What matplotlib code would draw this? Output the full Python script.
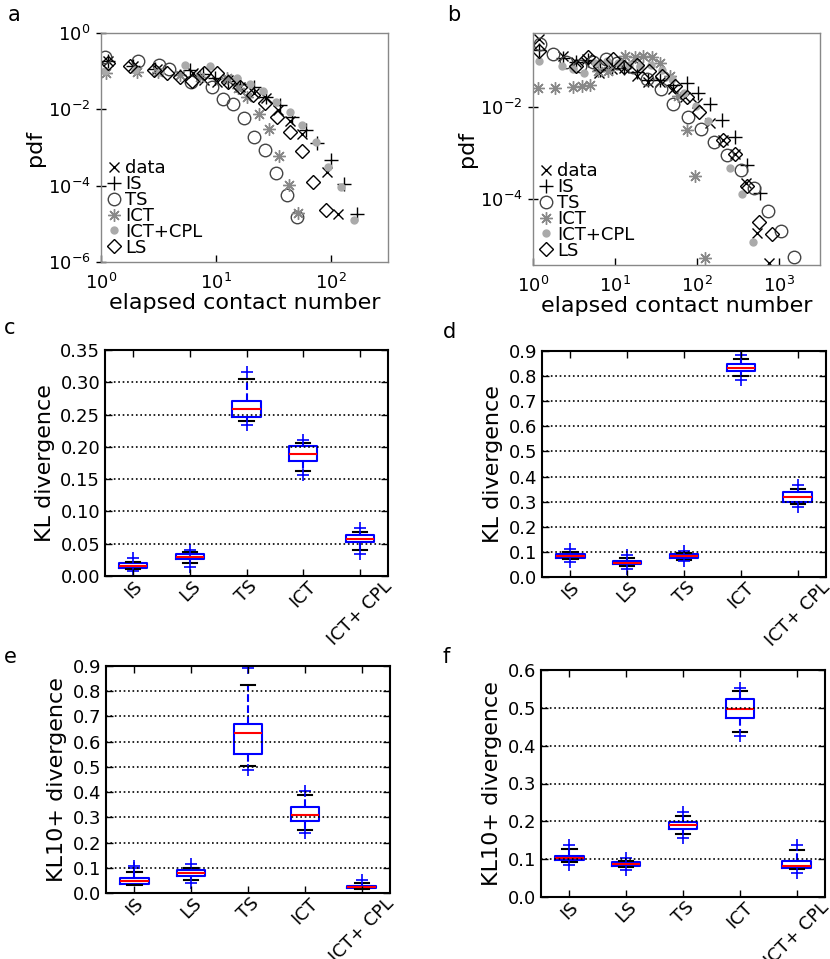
import matplotlib
matplotlib.use('Agg')
import matplotlib.pyplot as plt
from matplotlib.ticker import FixedLocator, NullLocator, FormatStrFormatter

plt.rcParams['font.family'] = ['DejaVu Sans']

# ---------------- panel a data ----------------
a_data_x = [1.14, 1.91, 3.06, 6.32, 7.94, 10.2, 12.9, 16.4, 21.4, 27.1, 34.9, 44.1, 56.6, 92.3, 117]
a_data_y = [0.185, 0.139, 0.112, 0.0914, 0.059, 0.053, 0.059, 0.038, 0.0265, 0.0195, 0.0096, 0.00506, 0.00227, 2.26e-4, 1.83e-5]
a_is_x = [1.14, 1.91, 2.97, 5.99, 7.78, 9.9, 12.8, 16.3, 21.4, 27.1, 36.6, 46.3, 60.5, 75.5, 100, 131, 169]
a_is_y = [0.185, 0.139, 0.112, 0.107, 0.0845, 0.0664, 0.0554, 0.0462, 0.0393, 0.0211, 0.013, 0.00644, 0.00289, 0.0013, 4.73e-4, 1.11e-4, 1.79e-5]
a_ts_x = [1.09, 2.09, 3.19, 3.95, 6.11, 9.27, 11.6, 14.1, 17.5, 21.7, 26.9, 33.3, 41.3, 51.2]
a_ts_y = [0.24, 0.185, 0.145, 0.112, 0.0531, 0.038, 0.0187, 0.0136, 0.00607, 0.00193, 8.65e-4, 2.12e-4, 5.85e-5, 1.55e-5]
a_ict_x = [1.11, 2.05, 3.15, 4.9, 7.3, 12.4, 15.6, 18.7, 23.7, 28.9, 35.3, 43.6, 52.5]
a_ict_y = [0.088, 0.097, 0.095, 0.079, 0.0705, 0.0664, 0.0363, 0.0207, 0.0076, 0.00301, 6.14e-4, 1.03e-4, 1.9e-5]
a_cpl_x = [1.08, 1.98, 3.27, 5.42, 8.95, 15.3, 19.7, 25.8, 33.6, 43.9, 56.6, 74, 95.5, 122, 160]
a_cpl_y = [0.1, 0.107, 0.095, 0.145, 0.137, 0.0652, 0.0454, 0.0309, 0.0153, 0.0084, 0.0039, 0.00143, 3.16e-4, 9.3e-5, 1.25e-5]
a_ls_x = [1.14, 1.79, 2.92, 3.79, 4.9, 6.2, 7.94, 10.2, 12.9, 16.4, 21, 26.7, 33.8, 44.1, 56.6, 70.6, 90.4]
a_ls_y = [0.161, 0.139, 0.107, 0.0914, 0.0692, 0.0564, 0.088, 0.0914, 0.0531, 0.0379, 0.0238, 0.0144, 0.0062, 0.0026, 8.1e-4, 1.28e-4, 2.32e-5]

# ---------------- panel b data ----------------
b_data_x = [1.19, 2.32, 3.34, 4.59, 6.44, 9.12, 12.9, 18.4, 25.5, 35.4, 51.4, 71.4, 99, 144, 209, 290, 395, 543, 760]
b_data_y = [0.316, 0.13, 0.0975, 0.111, 0.0561, 0.0665, 0.07, 0.0475, 0.0357, 0.0357, 0.0243, 0.0165, 0.0124, 0.00454, 0.0019, 9.28e-4, 2.16e-4, 1.75e-5, 3.98e-6]
b_is_x = [1.19, 2.32, 3.34, 4.69, 6.56, 9.19, 12.9, 18.4, 25.5, 35.4, 51.4, 74.8, 104, 144, 204, 290, 404, 586]
b_is_y = [0.176, 0.117, 0.096, 0.106, 0.064, 0.0711, 0.071, 0.058, 0.0389, 0.0389, 0.0302, 0.0329, 0.0199, 0.0116, 0.0052, 0.00225, 5.42e-4, 1.35e-4]
b_ts_x = [1.21, 1.77, 2.52, 3.72, 5.43, 7.76, 10.7, 16.7, 24.4, 36.1, 51.4, 77.1, 111, 161, 234, 344, 496, 728, 1057, 1537]
b_ts_y = [0.238, 0.144, 0.0975, 0.0785, 0.0975, 0.11, 0.09, 0.0736, 0.0403, 0.0243, 0.012, 0.00596, 0.00326, 0.00175, 8.95e-4, 4.21e-4, 1.68e-4, 5.36e-5, 1.99e-5, 5.38e-6]
b_ict_x = [1.16, 1.85, 3.1, 3.93, 4.96, 6.25, 8.15, 13.2, 17.5, 22.1, 28, 35.4, 46.9, 59.2, 74.8, 94.6, 125]
b_ict_y = [0.0256, 0.0256, 0.0269, 0.0288, 0.0298, 0.0621, 0.0621, 0.13, 0.122, 0.13, 0.125, 0.0927, 0.0488, 0.0171, 0.00315, 3.07e-4, 4.98e-6]
b_cpl_x = [1.19, 2.24, 3.05, 4.19, 5.7, 7.91, 11, 14.9, 20.2, 27.5, 37.1, 49.1, 70, 96.3, 135, 252, 351, 486]
b_cpl_y = [0.101, 0.0785, 0.0665, 0.0561, 0.09, 0.101, 0.09, 0.0826, 0.0785, 0.0826, 0.0643, 0.0403, 0.0205, 0.0105, 0.00502, 4.59e-4, 1.28e-4, 1.15e-5]
b_ls_x = [1.19, 3.32, 4.72, 6.56, 9.37, 13, 18.4, 26, 37.1, 53.2, 74.8, 106, 206, 290, 404, 575, 815]
b_ls_y = [0.169, 0.0785, 0.122, 0.0785, 0.11, 0.0736, 0.0826, 0.0621, 0.0488, 0.0288, 0.0168, 0.00789, 0.0019, 9.28e-4, 1.88e-4, 3.04e-5, 1.69e-5]

# ---------------- box plot data ----------------
cats = ['IS', 'LS', 'TS', 'ICT', 'ICT+ CPL']

c_med = [0.016, 0.030, 0.259, 0.189, 0.0573]
c_q1 = [0.0129, 0.0258, 0.2457, 0.178, 0.0532]
c_q3 = [0.0196, 0.0336, 0.2716, 0.2019, 0.063]
c_lo = [0.0103, 0.0196, 0.2406, 0.1626, 0.0403]
c_hi = [0.022, 0.0367, 0.3056, 0.2065, 0.0687]
c_fl = [[0.007, 0.028], [0.0145, 0.040], [0.234, 0.3155], [0.156, 0.2106], [0.0336, 0.0738]]

d_med = [0.083, 0.057, 0.082, 0.8325, 0.3203]
d_q1 = [0.0754, 0.0503, 0.0754, 0.8192, 0.3004]
d_q3 = [0.0926, 0.0648, 0.0926, 0.8497, 0.3375]
d_lo = [0.071, 0.0423, 0.069, 0.799, 0.2912]
d_hi = [0.098, 0.0754, 0.0966, 0.8695, 0.3507]
d_fl = [[0.06, 0.111], [0.03, 0.0887], [0.062, 0.102], [0.7835, 0.883], [0.278, 0.3666]]

e_med = [0.0476, 0.078, 0.6353, 0.311, 0.0238]
e_q1 = [0.037, 0.0675, 0.5506, 0.2845, 0.0199]
e_q3 = [0.0609, 0.09, 0.6697, 0.3415, 0.0291]
e_lo = [0.033, 0.0516, 0.503, 0.2488, 0.017]
e_hi = [0.0834, 0.1006, 0.8245, 0.3878, 0.041]
e_fl = [[0.098, 0.106], [0.041, 0.1165], [0.487, 0.893], [0.238, 0.4037], [0.05]]

f_med = [0.1018, 0.0867, 0.1903, 0.4956, 0.0823]
f_q1 = [0.0965, 0.0823, 0.1796, 0.4735, 0.0779]
f_q3 = [0.1088, 0.0912, 0.1991, 0.5221, 0.0956]
f_lo = [0.0912, 0.080, 0.1664, 0.4354, 0.0735]
f_hi = [0.1265, 0.0956, 0.215, 0.5434, 0.123]
f_fl = [[0.084, 0.137], [0.0726, 0.1018], [0.1549, 0.2257], [0.4248, 0.553], [0.0637, 0.137]]

W, H = 830, 959
fig = plt.figure(figsize=(8.3, 9.59), dpi=100)


def add_ax(l, t, r, b):
    return fig.add_axes([l / W, 1 - b / H, (r - l) / W, (b - t) / H])


def pdf_panel(ax, series, xlim, ylim, yticks, xticks):
    styles = [
        dict(marker='x', color='black', ms=7, mew=1.0, label='data', ls='none'),
        dict(marker='+', color='black', ms=10, mew=1.0, label='IS', ls='none'),
        dict(marker='o', mfc='none', mec='#444444', ms=9, mew=1.0, label='TS', ls='none'),
        dict(marker=(8, 2, 0), color='#888888', ms=9, mew=1.0, label='ICT', ls='none'),
        dict(marker='o', color='#aaaaaa', mec='#aaaaaa', ms=5, label='ICT+CPL', ls='none'),
        dict(marker='D', mfc='none', mec='black', ms=7, mew=1.0, label='LS', ls='none'),
    ]
    for (x, y), st in zip(series, styles):
        ax.plot(x, y, **st)
    ax.set_xscale('log')
    ax.set_yscale('log')
    ax.set_xlim(*xlim)
    ax.set_ylim(*ylim)
    ax.xaxis.set_major_locator(FixedLocator(xticks))
    ax.yaxis.set_major_locator(FixedLocator(yticks))
    ax.xaxis.set_minor_locator(NullLocator())
    ax.yaxis.set_minor_locator(NullLocator())
    for sp in ax.spines.values():
        sp.set_color('#888888')
        sp.set_linewidth(1.0)
    ax.tick_params(axis='y', direction='inout', length=7, width=1.0, labelsize=13, color='black', pad=4)
    ax.tick_params(axis='x', direction='in', length=5, width=1.0, labelsize=13, color='black', pad=8)
    ax.set_xlabel('elapsed contact number', fontsize=16, labelpad=0)
    ax.set_ylabel('pdf', fontsize=16, labelpad=2)
    leg = ax.legend(loc='lower left', frameon=False, fontsize=13, handlelength=0.8,
                    handletextpad=0.25, labelspacing=-0.12, borderaxespad=0.1,
                    borderpad=0.2, numpoints=1)
    return leg


ax_a = add_ax(101, 33, 388, 262)
pdf_panel(ax_a, [(a_data_x, a_data_y), (a_is_x, a_is_y), (a_ts_x, a_ts_y),
                 (a_ict_x, a_ict_y), (a_cpl_x, a_cpl_y), (a_ls_x, a_ls_y)],
          (1, 10 ** 2.5), (1e-6, 1), [1e-6, 1e-4, 1e-2, 1], [1, 10, 100])

ax_b = add_ax(533, 33, 820, 265)
pdf_panel(ax_b, [(b_data_x, b_data_y), (b_is_x, b_is_y), (b_ts_x, b_ts_y),
                 (b_ict_x, b_ict_y), (b_cpl_x, b_cpl_y), (b_ls_x, b_ls_y)],
          (1, 10 ** 3.5), (10 ** -5.45, 10 ** -0.38), [1e-4, 1e-2], [1, 10, 100, 1000])


def box_panel(ax, med, q1, q3, lo, hi, fl, ylim, yticks, fmt, ylabel):
    stats = []
    for i in range(len(cats)):
        stats.append(dict(med=med[i], q1=q1[i], q3=q3[i], whislo=lo[i], whishi=hi[i],
                          fliers=fl[i], label=cats[i]))
    ax.bxp(stats, positions=range(1, len(cats) + 1), widths=0.5,
           boxprops=dict(color='blue', lw=1.5),
           medianprops=dict(color='red', lw=1.5),
           whiskerprops=dict(color='blue', ls='--', lw=1.5),
           capprops=dict(color='black', lw=1.5),
           flierprops=dict(marker='+', mec='blue', mfc='none', ms=9, mew=1.2))
    ax.set_xlim(0.5, len(cats) + 0.5)
    ax.set_ylim(*ylim)
    ax.set_yticks(yticks)
    ax.yaxis.set_major_formatter(FormatStrFormatter(fmt))
    ax.set_xticks(range(1, len(cats) + 1))
    ax.set_xticklabels(cats, rotation=45, ha='center', fontsize=13)
    ax.tick_params(direction='in', length=5, width=1.0, labelsize=13,
                   top=True, right=True)
    ax.tick_params(axis='x', pad=1)
    ax.yaxis.grid(True, linestyle=':', color='black', lw=1.2)
    ax.set_axisbelow(False)
    for sp in ax.spines.values():
        sp.set_linewidth(1.5)
        sp.set_color('black')
    ax.set_ylabel(ylabel, fontsize=16)


ax_c = add_ax(105, 350, 388, 576)
box_panel(ax_c, c_med, c_q1, c_q3, c_lo, c_hi, c_fl, (0, 0.35),
          [0, 0.05, 0.10, 0.15, 0.20, 0.25, 0.30, 0.35], '%.2f', 'KL divergence')

ax_d = add_ax(542, 351, 826, 577)
box_panel(ax_d, d_med, d_q1, d_q3, d_lo, d_hi, d_fl, (0, 0.9),
          [0, 0.1, 0.2, 0.3, 0.4, 0.5, 0.6, 0.7, 0.8, 0.9], '%.1f', 'KL divergence')

ax_e = add_ax(106, 666, 390, 893)
box_panel(ax_e, e_med, e_q1, e_q3, e_lo, e_hi, e_fl, (0, 0.9),
          [0, 0.1, 0.2, 0.3, 0.4, 0.5, 0.6, 0.7, 0.8, 0.9], '%.1f', 'KL10+ divergence')

ax_f = add_ax(541, 670, 825, 897)
box_panel(ax_f, f_med, f_q1, f_q3, f_lo, f_hi, f_fl, (0, 0.6),
          [0, 0.1, 0.2, 0.3, 0.4, 0.5, 0.6], '%.1f', 'KL10+ divergence')

for lab, (px, py) in zip('abcdef', [(8, 15), (447, 15), (4, 328), (443, 332), (4, 657), (442, 657)]):
    fig.text(px / W, 1 - py / H, lab, fontsize=15, va='center', ha='left')

fig.savefig('out.png', dpi=100)
